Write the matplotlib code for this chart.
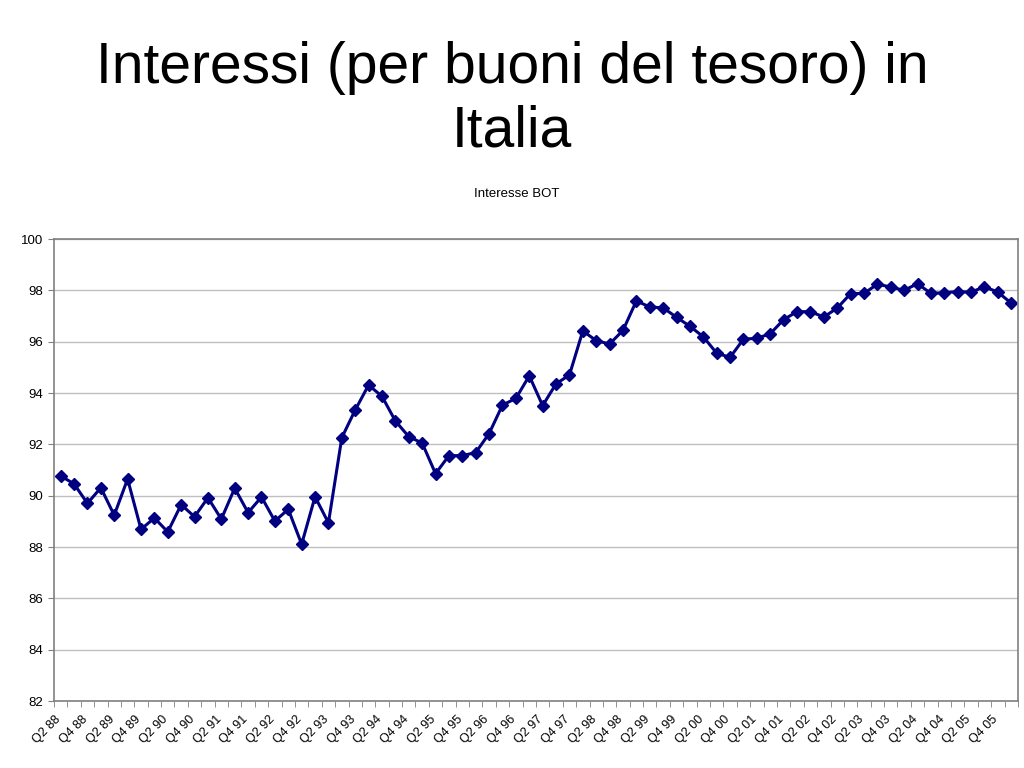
import matplotlib
matplotlib.use("Agg")
import matplotlib.pyplot as plt
import matplotlib.transforms as mtransforms

# quarters Q2 88 .. Q1 06
quarters = []
for year in range(88, 107):
    for q in range(1, 5):
        quarters.append("Q%d %02d" % (q, year % 100))
quarters = quarters[1:73]

# Interesse BOT
interesse = [90.77, 90.46, 89.70, 90.31, 89.24, 90.65, 88.69, 89.13, 88.59, 89.65,
             89.18, 89.92, 89.09, 90.29, 89.34, 89.95, 89.01, 89.47, 88.11, 89.96,
             88.94, 92.26, 93.34, 94.31, 93.87, 92.91, 92.30, 92.05, 90.86, 91.56,
             91.56, 91.68, 92.42, 93.53, 93.79, 94.67, 93.51, 94.36, 94.70, 96.42,
             96.04, 95.91, 96.44, 97.59, 97.35, 97.32, 96.95, 96.60, 96.19, 95.55,
             95.39, 96.10, 96.13, 96.31, 96.86, 97.17, 97.17, 96.96, 97.31, 97.87,
             97.88, 98.24, 98.13, 98.00, 98.26, 97.88, 97.91, 97.95, 97.93, 98.14,
             97.93, 97.50]

plt.rcParams['font.family'] = ['Liberation Sans', 'DejaVu Sans']

fig = plt.figure(figsize=(10.24, 7.68), dpi=100)
fig.text(0.5, 0.870, "Interessi (per buoni del tesoro) in\nItalia", ha='center', va='center',
         fontsize=41, linespacing=1.22)
fig.text(0.505, 0.747, "Interesse BOT", ha='center', va='center', fontsize=9.5)

ax = fig.add_axes([0.0527, 0.0872, 0.9414, 0.6016])
x = list(range(len(interesse)))
ax.plot(x, interesse, color='#000080', linewidth=2.2, marker='D', markersize=6.5,
        markerfacecolor='#000080', markeredgecolor='#000080')

ax.set_xlim(-0.5, len(interesse) - 0.5)
ax.set_ylim(82, 100)
ax.set_yticks(range(82, 101, 2))
ax.grid(axis='y', color='#c0c0c0', linewidth=1)
ax.set_axisbelow(True)

ax.set_xticks(x[::2])
ax.set_xticklabels(quarters[::2], rotation=45, ha='right', rotation_mode='anchor', fontsize=9)
ax.set_xticks([i + 0.5 for i in range(-1, len(interesse))], minor=True)
ax.tick_params(axis='x', which='major', length=0, pad=9)
ax.tick_params(axis='x', which='minor', length=4, color='#808080')
ax.tick_params(axis='y', length=4, color='#808080', labelsize=9.5)

# shift tick labels a little to the left, like the original
shift = mtransforms.ScaledTranslation(-6 / 100, 0, fig.dpi_scale_trans)
for lbl in ax.get_xticklabels():
    lbl.set_transform(lbl.get_transform() + shift)

for s in ax.spines.values():
    s.set_color('#808080')
    s.set_linewidth(1.2)

fig.savefig("out.png", dpi=100)
